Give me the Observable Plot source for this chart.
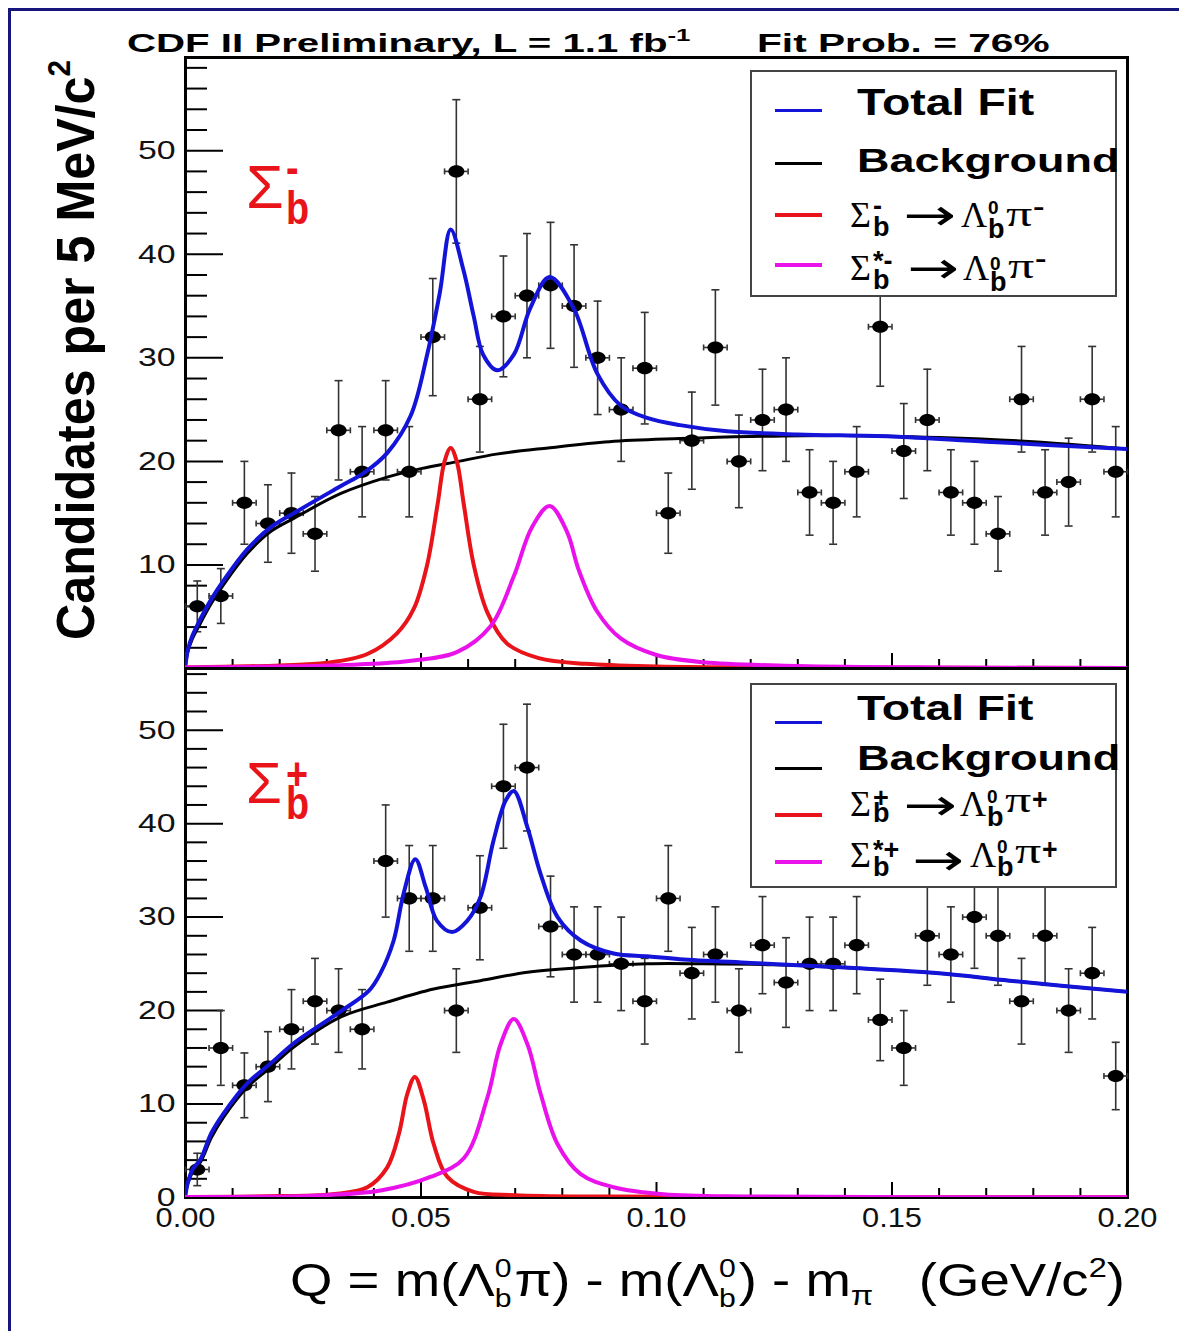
<!DOCTYPE html>
<html><head><meta charset="utf-8">
<script src="https://cdn.jsdelivr.net/npm/d3@7"></script>
<script src="https://cdn.jsdelivr.net/npm/@observablehq/plot@0.6"></script>
<style>
body{margin:0;background:#fff;}
#wrap{position:relative;width:1179px;height:1331px;overflow:hidden;background:#fff;font-family:"Liberation Sans",Arial,Helvetica,sans-serif;}
#wrap > svg{position:absolute;left:0;top:0;}
.lbl{position:absolute;white-space:nowrap;transform-origin:0 0;}
.stk{position:absolute;white-space:pre;transform-origin:0 0;}
.fl19::first-line{font-size:19px;}
.box{position:absolute;background:#fff;border:2px solid #444;box-sizing:border-box;}
.smp{position:absolute;left:775px;width:47px;}
#navy{position:absolute;left:8px;top:8px;width:1300px;height:1400px;border-left:3px solid #16167c;border-top:3px solid #16167c;}
</style></head><body><div id="wrap"><div id="navy"></div></div><script>
// ---------------- data ----------------
const binQ = [0.0025,0.0075,0.0125,0.0175,0.0225,0.0275,0.0325,0.0375,0.0425,0.0475,
              0.0525,0.0575,0.0625,0.0675,0.0725,0.0775,0.0825,0.0875,0.0925,0.0975,
              0.1025,0.1075,0.1125,0.1175,0.1225,0.1275,0.1325,0.1375,0.1425,0.1475,
              0.1525,0.1575,0.1625,0.1675,0.1725,0.1775,0.1825,0.1875,0.1925,0.1975];
const binHalfWidth = 0.0025;
const countsMinus = [6,7,16,14,15,13,23,19,23,19,32,48,26,34,36,37,35,30,25,29,
                     15,22,31,20,24,25,17,16,19,33,21,24,17,16,13,26,17,18,26,19];
const countsPlus  = [3,16,12,14,18,21,20,18,36,32,32,20,31,44,46,29,26,26,25,21,
                     32,24,26,20,27,23,25,25,27,19,16,28,26,30,28,21,28,20,24,13];

// fit curves: [Q, candidates]
const bkgMinus = [[0,0.3],[0.0005,1.6],[0.0015,2.9],[0.0032,4.4],[0.0055,6.3],[0.0081,8.1],[0.0131,11.1],[0.018,13.2],[0.023,14.5],[0.033,16.9],[0.043,18.5],[0.05,19.3],[0.058,20.0],[0.066,20.7],[0.077,21.3],[0.09,21.9],[0.105,22.2],[0.12,22.4],[0.14,22.5],[0.16,22.3],[0.18,21.9],[0.2,21.2]];
const totMinus = [[0,0.3],[0.0005,1.8],[0.0015,3.2],[0.0032,4.8],[0.0055,6.7],[0.0081,8.5],[0.0131,11.5],[0.018,13.6],[0.023,15.0],[0.0329,17.6],[0.0379,18.9],[0.0428,20.8],[0.0478,24.4],[0.0513,30.3],[0.054,36.3],[0.0563,42.4],[0.059,38.5],[0.0612,34],[0.0632,30.3],[0.0662,28.8],[0.0697,30.3],[0.0732,34.8],[0.0773,37.8],[0.0824,34.8],[0.0874,28.5],[0.0924,25.4],[0.098,24.2],[0.105,23.5],[0.115,22.9],[0.13,22.6],[0.15,22.4],[0.17,21.9],[0.2,21.2]];
const sigMinus = [[0,0.1],[0.02,0.3],[0.03,0.55],[0.0386,1.4],[0.0449,3.4],[0.0485,5.8],[0.0513,10],[0.0535,15.8],[0.055,20],[0.0563,21.3],[0.0576,20],[0.0591,15.8],[0.0612,10],[0.0641,5.4],[0.0683,2.4],[0.075,1.0],[0.085,0.45],[0.1,0.2],[0.13,0.1],[0.2,0.05]];
const sigStarMinus = [[0,0.1],[0.02,0.2],[0.034,0.35],[0.047,0.7],[0.0577,1.6],[0.0648,4.1],[0.0697,8.9],[0.0735,13.6],[0.0773,15.7],[0.081,13.2],[0.0835,9.5],[0.0874,5.5],[0.0924,2.9],[0.1,1.3],[0.11,0.6],[0.13,0.25],[0.16,0.1],[0.2,0.05]];

const bkgPlus = [[0,0.3],[0.0005,1.5],[0.0015,2.7],[0.0032,3.8],[0.0055,6.4],[0.0081,8.6],[0.0131,11.8],[0.018,13.9],[0.023,16.1],[0.0329,19.3],[0.0428,20.9],[0.0527,22.3],[0.0626,23.2],[0.0726,24.1],[0.0839,24.6],[0.098,25],[0.11,25],[0.125,24.9],[0.14,24.6],[0.16,24],[0.175,23.2],[0.2,22]];
const totPlus = [[0,0.3],[0.0005,1.6],[0.0015,3.0],[0.0032,4.1],[0.0055,6.9],[0.0081,9.0],[0.0131,12.2],[0.018,14.3],[0.023,16.5],[0.0329,19.9],[0.0389,22.1],[0.0414,24.0],[0.0442,27.5],[0.0463,32.5],[0.0488,36.2],[0.051,33.2],[0.0534,29.6],[0.0566,28.4],[0.0598,29.6],[0.0626,32.1],[0.0654,38.2],[0.068,42.5],[0.0697,43.5],[0.0726,39.6],[0.0754,34.6],[0.079,30],[0.0839,27.5],[0.0909,26.1],[0.098,25.8],[0.105,25.5],[0.12,25.1],[0.14,24.6],[0.16,24],[0.175,23.2],[0.2,22]];
const sigPlus = [[0,0.05],[0.02,0.15],[0.03,0.3],[0.0386,1.1],[0.0428,3.2],[0.0453,6.8],[0.0471,11.1],[0.0487,12.9],[0.0506,10.4],[0.0527,5.7],[0.0556,2.2],[0.0612,0.6],[0.07,0.25],[0.09,0.1],[0.2,0.02]];
const sigStarPlus = [[0,0.05],[0.0272,0.2],[0.0414,0.75],[0.052,2.2],[0.0591,4.2],[0.0641,10.7],[0.0669,16.4],[0.0697,19.1],[0.0726,16.4],[0.0754,11.1],[0.079,5.7],[0.0839,2.5],[0.0909,1.1],[0.1015,0.35],[0.12,0.1],[0.2,0.03]];

// axes
const xMajor = [0.05,0.10,0.15];
const xMinor = [0.01,0.02,0.03,0.04,0.06,0.07,0.08,0.09,0.11,0.12,0.13,0.14,0.16,0.17,0.18,0.19];
const xTickLabels = [0.00,0.05,0.10,0.15,0.20];
const yMajor = [10,20,30,40,50];
const yMinorTop = [2,4,6,8,12,14,16,18,22,24,26,28,32,34,36,38,42,44,46,48,52,54,56,58];
const yMinorBottom = [2,4,6,8,12,14,16,18,22,24,26,28,32,34,36,38,42,44,46,48,52,54,56];
const yLabelsTop = [10,20,30,40,50];
const yLabelsBottom = [0,10,20,30,40,50];

// ---------------- layout ----------------
const W = 1179, H = 1331, X0 = 185, X1 = 1127;
const SANS = '"Liberation Sans", Arial, Helvetica, sans-serif';
const SERIF = '"Liberation Serif", "Times New Roman", serif';
const DJV = '"DejaVu Sans", sans-serif';
const METRICS = {[SANS]:[0.905,0.212], [SERIF]:[0.891,0.216], [DJV]:[0.928,0.236]};
const BLUE = "#1414d8", RED = "#e8141a", MAG = "#ea12ea", ERR = "#333";

const ellip = {draw(ctx, size){ const r = Math.sqrt(size/Math.PI), rx = r*1.25, ry = r*0.95, k = 0.5523;
  ctx.moveTo(rx,0); ctx.bezierCurveTo(rx,ry*k,rx*k,ry,0,ry); ctx.bezierCurveTo(-rx*k,ry,-rx,ry*k,-rx,0);
  ctx.bezierCurveTo(-rx,-ry*k,-rx*k,-ry,0,-ry); ctx.bezierCurveTo(rx*k,-ry,rx,-ry*k,rx,0); ctx.closePath(); }};
const hcap = {draw(ctx, size){ const r = Math.sqrt(size/Math.PI); ctx.moveTo(-r,0); ctx.lineTo(r,0); }};
const vcap = {draw(ctx, size){ const r = Math.sqrt(size/Math.PI); ctx.moveTo(0,-r); ctx.lineTo(0,r); }};

function panel(o){
  const pts = binQ.map((q,i) => ({q, n:o.counts[i], e:Math.sqrt(o.counts[i])}));
  const fw = X1 - X0, fh = o.bottom - o.top;
  const P = arr => arr.map(([q,v]) => ({q, v}));
  const errStyle = {stroke:ERR, strokeWidth:1.6, fill:"none"};
  const marks = [
    Plot.ruleY(o.yMinor, {stroke:"#000", strokeWidth:2, insetRight: fw - 22}),
    Plot.ruleY(yMajor, {stroke:"#000", strokeWidth:2, insetRight: fw - 38}),
    Plot.ruleX(xMinor, {stroke:"#000", strokeWidth:2, insetTop: fh - 9}),
    Plot.ruleX(xMajor, {stroke:"#000", strokeWidth:2, insetTop: fh - 15}),
    Plot.axisY(o.yLabels, {tickSize:0, tickPadding:10, fontSize:26, label:null, fill:"#111"}),
    Plot.frame({stroke:"#000", strokeWidth:3}),
    Plot.ruleY(pts, {y:"n", x1:d => d.q - binHalfWidth, x2:d => d.q + binHalfWidth, ...errStyle}),
    Plot.ruleX(pts, {x:"q", y1:d => d.n - d.e, y2:d => d.n + d.e, ...errStyle}),
    Plot.dot(pts, {x:"q", y:d => d.n + d.e, symbol:hcap, r:4, ...errStyle}),
    Plot.dot(pts, {x:"q", y:d => d.n - d.e, symbol:hcap, r:4, ...errStyle}),
    Plot.dot(pts, {x:d => d.q - binHalfWidth, y:"n", symbol:vcap, r:3, ...errStyle}),
    Plot.dot(pts, {x:d => d.q + binHalfWidth, y:"n", symbol:vcap, r:3, ...errStyle}),
    Plot.dot(pts, {x:"q", y:"n", symbol:ellip, r:6.4, fill:"#000", stroke:"none"}),
    Plot.line(P(o.bkg), {x:"q", y:"v", stroke:"#000", strokeWidth:3, curve:"catmull-rom", clip:true}),
    Plot.line(P(o.tot), {x:"q", y:"v", stroke:BLUE, strokeWidth:4, curve:"catmull-rom", clip:true}),
    Plot.line(P(o.sig), {x:"q", y:"v", stroke:RED, strokeWidth:4, curve:"catmull-rom", clip:true}),
    Plot.line(P(o.star), {x:"q", y:"v", stroke:MAG, strokeWidth:4, curve:"catmull-rom", clip:true})
  ];
  if (o.xLabels) marks.push(Plot.axisX(xTickLabels, {tickSize:0, tickPadding:10, fontSize:28, tickFormat:d3.format(".2f"), label:null, fill:"#111"}));
  const svg = Plot.plot({
    width:W, height:H, marginLeft:X0, marginRight:W - X1, marginTop:o.top, marginBottom:H - o.bottom,
    x:{domain:[0,0.2], ...(o.xLabels ? {} : {axis:null})},
    y:{domain:[0,o.yMax]},
    style:{background:"transparent", fontFamily:SANS, overflow:"visible"},
    marks
  });
  // widen tick labels horizontally (about their anchor), like the reference rendering
  svg.querySelectorAll("g[aria-label$='tick label']").forEach(g => {
    const s = g.getAttribute("aria-label").startsWith("y") ? 1.3 : 1.1;
    g.querySelectorAll("text").forEach(t => {
      const x = parseFloat(t.getAttribute("x")) || 0;
      const tr = t.getAttribute("transform") || "";
      t.setAttribute("transform", `${tr} translate(${x},0) scale(${s},1) translate(${-x},0)`);
    });
  });
  return svg;
}

const wrap = document.getElementById("wrap");
wrap.appendChild(panel({counts:countsMinus, bkg:bkgMinus, tot:totMinus, sig:sigMinus, star:sigStarMinus,
  top:57, bottom:668, yMax:59, yMinor:yMinorTop, yLabels:yLabelsTop, xLabels:false}));
wrap.appendChild(panel({counts:countsPlus, bkg:bkgPlus, tot:totPlus, sig:sigPlus, star:sigStarPlus,
  top:668, bottom:1197, yMax:56.6, yMinor:yMinorBottom, yLabels:yLabelsBottom, xLabels:true}));

// ---------------- text helpers ----------------
function label(html, o){
  const el = document.createElement("div");
  el.className = "lbl";
  const fam = o.family || SANS, [a, d] = METRICS[fam], lh = o.lh || 1, sy = o.sy || 1;
  const off = a - (a + d - lh)/2;            // baseline offset from the top of the line box
  el.style.left = o.x + "px";
  el.style.top = (o.base - off*o.size*sy) + "px";
  el.style.lineHeight = lh;
  el.style.fontSize = o.size + "px";
  el.style.fontWeight = o.weight || 400;
  el.style.color = o.color || "#000";
  el.style.fontFamily = fam;
  el.innerHTML = html;
  wrap.appendChild(el);
  const sx = o.width ? o.width / el.offsetWidth : 1;
  el.style.transform = `scale(${sx},${sy})`;
  return el;
}
// superscript over subscript in one text block: first line = script above, second line = "b" below
function stackLabel(text, o){
  const f = o.size, f1 = o.size1 || f, k = 0.3465;
  const L = (o.base2 - o.base1) - k*(f - f1);
  const el = document.createElement("div");
  el.className = "stk" + (f1 !== f ? " fl" + f1 : "");
  Object.assign(el.style, {left:o.x + "px", top:(o.base2 - 1.5*L - k*f) + "px", lineHeight:L + "px",
    fontSize:f + "px", fontWeight:700, fontFamily:SANS, color:o.color || "#000"});
  el.textContent = text;
  wrap.appendChild(el);
  if (o.width) el.style.transform = `scale(${o.width / el.offsetWidth},1)`;
  return el;
}
function rs(t, f, dy, css=""){ return `<span style="position:relative;top:${dy}px;font-size:${f}px;${css}">${t}</span>`; }
function stack(sup, sub, f, w, up, down){
  const a = 0.8465*f;
  return `<span style="display:inline-block;position:relative;width:${w}px;height:0;vertical-align:baseline">`+
    `<span style="position:absolute;left:0;top:${-up-a}px;font-size:${f}px;line-height:1">${sup}</span>`+
    `<span style="position:absolute;left:0;top:${down-a}px;font-size:${f}px;line-height:1">${sub}</span></span>`;
}
function box(x, y, w, h){ const b = document.createElement("div"); b.className = "box";
  Object.assign(b.style, {left:x+"px", top:y+"px", width:w+"px", height:h+"px"}); wrap.appendChild(b); }
function sample(y, color, t){ const s = document.createElement("div"); s.className = "smp";
  Object.assign(s.style, {top:(y - t/2)+"px", height:t+"px", background:color}); wrap.appendChild(s); }
// one legend formula "Σ_b^{sup} → Λ_b^0 π^{charge}" built from placed pieces
function decay(p){
  label("&Sigma;", {x:850, base:p.B, size:36, family:SERIF, lh:0.8});
  stackLabel(p.sup + "\nb", {x:873, base1:p.s1, base2:p.bB, size:27});
  label("&rarr;", {x:p.ax - 4, base:p.aB, size:44, family:DJV, width:p.aw + 8, lh:0.6});
  label("&Lambda;", {x:p.lx, base:p.B, size:36, family:SERIF, lh:0.8});
  stackLabel("0\nb", {x:p.lx + 27, base1:p.zB, base2:p.lbB, size:27, size1:19});
  label("&pi;", {x:p.lx + 45, base:p.pB, size:36, family:SERIF, width:26, lh:0.8});
  label(p.ch.t, {x:p.lx + 72, base:p.ch.base, size:p.ch.size, weight:700, width:p.ch.w, lh:0.6});
}

// titles
label(`CDF II Preliminary, L = 1.1 fb${rs("-1",17,-11)}`, {x:127, base:52, size:26.5, weight:700, width:563});
label(`Fit Prob. = 76%`, {x:757, base:52, size:26.5, weight:700, width:293});

// y axis title (rotated)
(function(){
  const F = 54;
  const el = document.createElement("div");
  el.className = "lbl";
  Object.assign(el.style, {left:"0px", top:"0px", fontSize:F+"px", fontWeight:700, fontFamily:SANS, lineHeight:1});
  el.innerHTML = `Candidates per 5 MeV/c${rs("2",32,-24)}`;
  wrap.appendChild(el);
  const sx = 580 / el.offsetWidth;
  el.style.transform = `translate(${94 - 0.8465*F}px, 640px) rotate(-90deg) scale(${sx},1)`;
})();

// x axis title
label(`Q = m(&Lambda;${stack("0","b",26,17,19,11)}&pi;) - m(&Lambda;${stack("0","b",26,17,19,11)}) - m${rs("&pi;",28,9)}&nbsp;&nbsp;&nbsp;(GeV/c${rs("2",28,-19)})`,
  {x:290, base:1296, size:47, width:835});

// red particle labels
label("&Sigma;", {x:246, base:209, size:61, color:RED, lh:0.8});
stackLabel("-\nb", {x:286, base1:183, base2:224, size:46, color:RED, width:23});
label("&Sigma;", {x:246, base:803, size:58, color:RED, lh:0.8});
stackLabel("+\nb", {x:286, base1:790, base2:819, size:46, color:RED, width:23});

// legends
box(750, 70, 367, 227);
sample(110, BLUE, 3); sample(163, "#000", 3); sample(215, RED, 4); sample(265, MAG, 4);
label("Total Fit", {x:857, base:115, size:37, weight:700, width:177});
label("Background", {x:857, base:172, size:33, weight:700, width:263});
decay({B:228, sup:"-", s1:216, bB:237, ax:907, aw:45, aB:230, lx:961, zB:215, lbB:238, pB:227,
       ch:{t:"-", base:214, size:22, w:11}});
decay({B:281, sup:"*-", s1:271, bB:290, ax:911, aw:44, aB:283, lx:963, zB:270, lbB:292, pB:279,
       ch:{t:"-", base:266, size:22, w:11}});

box(750, 683, 367, 205);
sample(722, BLUE, 3); sample(768, "#000", 3); sample(815, RED, 4); sample(862, MAG, 4);
label("Total Fit", {x:857, base:720, size:35, weight:700, width:177});
label("Background", {x:857, base:770, size:35, weight:700, width:263});
decay({B:817, sup:"+", s1:808, bB:823, ax:907, aw:46, aB:820, lx:960, zB:803, lbB:827, pB:813,
       ch:{t:"+", base:809, size:30, w:16}});
decay({B:868, sup:"*+", s1:860, bB:877, ax:916, aw:44, aB:875, lx:970, zB:853, lbB:877, pB:864,
       ch:{t:"+", base:859, size:30, w:16}});
</script></body></html>
